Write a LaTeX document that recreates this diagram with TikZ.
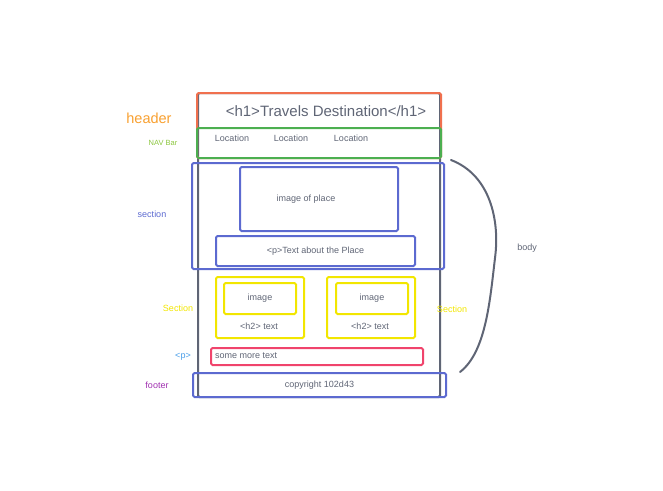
\documentclass[tikz,border=0pt]{standalone}
\usepackage{fontspec}
\setmainfont{Liberation Sans}
\usetikzlibrary{positioning}
\definecolor{wfgray}{HTML}{5F6575}
\definecolor{wforange}{HTML}{F0704E}
\definecolor{wfgreen}{HTML}{4CAF50}
\definecolor{wfblue}{HTML}{5C6AD0}
\definecolor{wfyellow}{HTML}{F2E600}
\definecolor{wfred}{HTML}{F0446C}
\definecolor{lblorange}{HTML}{F8A030}
\definecolor{lblgreen}{HTML}{8CC63F}
\definecolor{lblblue}{HTML}{4A9EE8}
\definecolor{lblpurple}{HTML}{A030B0}
\tikzset{wf/.style={
  x=1pt,
  y=-1pt,
  font=\fontsize{9}{10}\selectfont,
  text=wfgray
}}
\tikzset{wbox/.style={
  draw,
  line width=2pt,
  rounded corners=1.5pt,
  inner sep=0pt,
}}
\tikzset{bodybox/.style={wbox,draw=wfgray}}
\tikzset{hdrbox/.style={wbox,draw=wforange}}
\tikzset{navbox/.style={wbox,draw=wfgreen}}
\tikzset{secbox/.style={wbox,draw=wfblue}}
\tikzset{cardbox/.style={wbox,draw=wfyellow}}
\tikzset{parbox/.style={wbox,draw=wfred}}
\tikzset{lbl/.style={inner sep=0pt,font=\fontsize{9}{10}\selectfont}}

\begin{document}
\begin{tikzpicture}[wf]
    \useasboundingbox (0,0) rectangle (663,490);

    % Page outline
    \node[bodybox,minimum width=242pt,minimum height=304pt] (page) at (319,245) {};

    % Header and navigation
    \node[hdrbox,minimum width=244pt,minimum height=65pt] (hdr) at (319,125.5) {};
    \node[navbox,minimum width=244pt,minimum height=30pt] (nav) at (319,143) {};
    \node[lbl,font=\fontsize{15}{17}\selectfont] (h1) at (326,111) {<h1>Travels Destination</h1>};
    \node[lbl] (loc1) at (232,138) {Location};
    \node[lbl] (loc2) at (291,138) {Location};
    \node[lbl] (loc3) at (351,138) {Location};

    % Main section
    \node[secbox,minimum width=252pt,minimum height=106pt] (sec) at (318,216) {};
    \node[secbox,minimum width=158pt,minimum height=64pt] (img) at (319,199) {};
    \node[lbl] (imgtxt) at (306,199.5) {image of place};
    \node[secbox,minimum width=199pt,minimum height=30pt] (about) at (315.5,251) {<p>Text about the Place};

    % Two cards
    \node[cardbox,minimum width=88pt,minimum height=61pt] (cardl) at (260,307.5) {};
    \node[cardbox,minimum width=72pt,minimum height=31pt] (imgl) at (260,298.5) {image};
    \node[lbl] (h2l) at (259,326) {<h2> text};
    \node[cardbox,minimum width=88pt,minimum height=61pt] (cardr) at (371,307.5) {};
    \node[cardbox,minimum width=72pt,minimum height=31pt] (imgr) at (372,298.5) {image};
    \node[lbl] (h2r) at (370,326) {<h2> text};

    % Paragraph and footer
    \node[parbox,minimum width=212pt,minimum height=17pt] (more) at (317,356.5) {};
    \node[lbl,anchor=west] (moretxt) at (215,356) {some more text};
    \node[secbox,minimum width=253pt,minimum height=24pt] (foot) at (319.5,385) {copyright 102d43};

    % Side labels
    \node[lbl,text=lblorange,font=\fontsize{14.5}{16}\selectfont] (lhdr) at (149,118) {header};
    \node[lbl,text=lblgreen,font=\fontsize{7.5}{8}\selectfont] (lnav) at (163,143) {NAV Bar};
    \node[lbl,text=wfblue] (lsec) at (152,214) {section};
    \node[lbl,text=wfyellow] (lcardl) at (178,308) {Section};
    \node[lbl,text=wfyellow] (lcardr) at (452,309) {Section};
    \node[lbl,text=lblblue] (lpar) at (183,357) {<p>};
    \node[lbl,text=lblpurple] (lfoot) at (157,385) {footer};

    % Body brace
    \coordinate (btop) at (451,160);
    \coordinate (bmid) at (495,258);
    \coordinate (bbot) at (460,372);
    \draw[wfgray,line width=2pt,line cap=round]
      (btop) .. controls (490,175) and (500,220) .. (bmid)
      .. controls (490,300) and (486,352) .. (bbot);
    \node[lbl] (lbody) at (527,248) {body};

  \end{tikzpicture}
\end{document}
